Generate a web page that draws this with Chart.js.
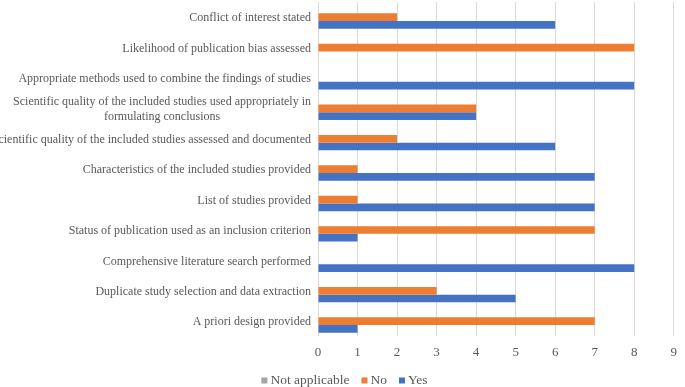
<!DOCTYPE html>
<html>
<head>
<meta charset="utf-8">
<script src="https://cdn.jsdelivr.net/npm/chart.js@4"></script>
<style>
  html, body { margin: 0; padding: 0; background: #fff; }
  #wrap { width: 685px; height: 387px; }
</style>
</head>
<body>
<div id="wrap"><canvas id="myChart"></canvas></div>
<script>
const categories = [
    'Conflict of interest stated',
    'Likelihood of publication bias assessed',
    'Appropriate methods used to combine the findings of studies',
    ['Scientific quality of the included studies used appropriately in', 'formulating conclusions'],
    'Scientific quality of the included studies assessed and documented',
    'Characteristics of the included studies provided',
    'List of studies provided',
    'Status of publication used as an inclusion criterion',
    'Comprehensive literature search performed',
    'Duplicate study selection and data extraction',
    'A priori design provided'
];
const notApplicable = [0, 0, 0, 0, 0, 0, 0, 0, 0, 0, 0];
const noValues      = [2, 8, 0, 4, 2, 1, 1, 7, 0, 3, 7];
const yesValues     = [6, 0, 8, 4, 6, 7, 7, 1, 8, 5, 1];
const xTicks = [0, 1, 2, 3, 4, 5, 6, 7, 8, 9];

const textColor = '#595959';
const serif = '"Liberation Serif", "Times New Roman", serif';

// category labels, two-line ones centred on themselves like in Excel
const yLabels = {
    id: 'yLabels',
    afterDraw(chart) {
        const ctx = chart.ctx;
        const y = chart.scales.y;
        ctx.save();
        ctx.font = '12px ' + serif;
        ctx.fillStyle = textColor;
        ctx.textBaseline = 'middle';
        ctx.textAlign = 'center';
        categories.forEach(function (lab, i) {
            const lines = Array.isArray(lab) ? lab : [lab];
            const w = Math.max.apply(null, lines.map(l => ctx.measureText(l).width));
            const cx = y.right - 7 - w / 2;
            const cy = y.getPixelForValue(i) + 1;
            lines.forEach(function (l, j) {
                ctx.fillText(l, cx, cy + (j - (lines.length - 1) / 2) * 15);
            });
        });
        ctx.restore();
    }
};

// small legend with tight box/text spacing
const bottomLegend = {
    id: 'bottomLegend',
    afterDraw(chart) {
        const ctx = chart.ctx;
        const sets = chart.data.datasets;
        ctx.save();
        ctx.font = '13.5px ' + serif;
        ctx.textBaseline = 'middle';
        ctx.textAlign = 'left';
        const box = 6, gap = 3, spacing = 12;
        const widths = sets.map(d => box + gap + ctx.measureText(d.label).width);
        const total = widths.reduce((a, b) => a + b, 0) + spacing * (sets.length - 1);
        let x = chart.width / 2 - total / 2 + 2;
        const cy = 380;
        sets.forEach(function (d, i) {
            ctx.fillStyle = d.backgroundColor;
            ctx.fillRect(x, cy - 2.5, box, box);
            ctx.fillStyle = textColor;
            ctx.fillText(d.label, x + box + gap, cy);
            x += widths[i] + spacing;
        });
        ctx.restore();
    }
};

var ctx = document.getElementById('myChart').getContext('2d');
var mychart = new Chart(ctx, {
    type: 'bar',
    data: {
        labels: categories,
        datasets: [
            { label: 'Not applicable', data: notApplicable, backgroundColor: '#A5A5A5' },
            { label: 'No', data: noValues, backgroundColor: '#ED7D31' },
            { label: 'Yes', data: yesValues, backgroundColor: '#4472C4' }
        ]
    },
    options: {
        indexAxis: 'y',
        responsive: true,
        maintainAspectRatio: false,
        animation: false,
        layout: { padding: { top: 2, right: 2, left: 0, bottom: 19 } },
        datasets: {
            bar: { barPercentage: 1, categoryPercentage: 0.76, borderWidth: 0 }
        },
        scales: {
            x: {
                min: 0,
                max: 9,
                afterBuildTicks: function (scale) {
                    scale.ticks = xTicks.map(v => ({ value: v }));
                },
                grid: { color: '#d9d9d9', drawTicks: false },
                border: { display: false },
                ticks: {
                    color: textColor,
                    padding: 8,
                    font: { family: serif, size: 13 }
                }
            },
            y: {
                grid: { display: false },
                border: { display: false },
                ticks: { display: false },
                afterFit: function (scale) { scale.width = 318; }
            }
        },
        plugins: {
            legend: { display: false },
            tooltip: { enabled: false }
        }
    },
    plugins: [yLabels, bottomLegend]
});
</script>
</body>
</html>
